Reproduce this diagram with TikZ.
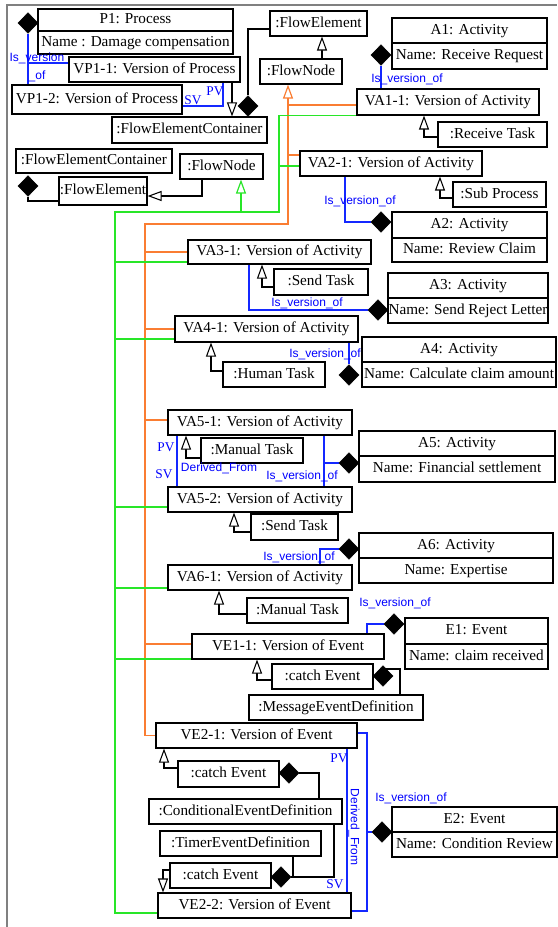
\documentclass[tikz,border=0pt]{standalone}
\usepackage{fontspec}
\setmainfont{Liberation Serif}
\newfontfamily\lblfont{Liberation Sans}
\usetikzlibrary{shapes.geometric,arrows.meta,backgrounds}
\definecolor{framecol}{RGB}{128,128,128}
\definecolor{lnblue}{RGB}{20,40,255}
\definecolor{lnorange}{RGB}{250,125,50}
\definecolor{lngreen}{RGB}{40,230,40}

% plain box: name, x1, y1, x2, y2, text (pixel units, y downwards)
\newcommand\umlbox[6]{%
  \node[box, minimum width={(#4-#2)*0.75pt}, minimum height={(#5-#3)*0.75pt}]
    (#1) at ({(#2+#4)/2},{(#3+#5)/2}) {#6};}
% object box with a name row and an attribute row
\newcommand\classbox[8]{%
  \node[box, minimum width={(#4-#2)*0.75pt}, minimum height={(#5-#3)*0.75pt}]
    (#1) at ({(#2+#4)/2},{(#3+#5)/2}) {};
  \coordinate (#1-d) at (0,#6);
  \draw[boxline] (#1.west |- #1-d) -- (#1.east |- #1-d);
  \node[txt] (#1-t) at ({(#2+#4)/2},{(#3+#6)/2}) {#7};
  \node[txt] (#1-b) at ({(#2+#4)/2},{(#6+#5)/2}) {#8};}

\tikzset{
  txt/.style={inner sep=0pt, font=\fontsize{11.4}{13}\selectfont, text height=8pt, text depth=2.2pt},
  box/.style={txt, draw=black, fill=white, line width=0.85pt},
  boxline/.style={draw=black, line width=0.85pt},
  dia/.style={diamond, fill=black, draw=black, inner sep=0pt, minimum width=15pt, minimum height=15.5pt},
  ln/.style={draw=black, line width=0.8pt},
  bl/.style={draw=lnblue, line width=0.9pt},
  og/.style={draw=lnorange, line width=0.9pt},
  gr/.style={draw=lngreen, line width=0.9pt},
  gen/.style={ln, -{Triangle[length=10.5pt, width=7.5pt, fill=white]}},
  ogen/.style={og, -{Triangle[length=10.5pt, width=7.5pt, fill=white]}},
  ggen/.style={gr, -{Triangle[length=10.5pt, width=7.5pt, fill=white]}},
  lbl/.style={inner sep=0pt, text=blue, font=\lblfont\fontsize{9}{10}\selectfont},
  lbls/.style={inner sep=0pt, text=blue, font=\fontsize{10}{11}\selectfont},
}

\begin{document}
\begin{tikzpicture}[x=0.75pt, y=-0.75pt]
\useasboundingbox (0,0) rectangle (557,927);

% page frame
\draw[framecol, line width=1.5pt] (7,927) -- (7,5) -- (557,5);

% ---------- process part ----------
\classbox{p1}{38}{9}{233}{54}{31}{P1: Process}{Name : Damage compensation}
\umlbox{vp11}{69}{57}{240}{82}{VP1-1: Version of Process}
\umlbox{vp12}{12}{85}{182}{114}{VP1-2: Version of Process}
\umlbox{fec1}{112}{117}{267}{143}{:FlowElementContainer}
\umlbox{fe1}{270}{11}{367}{36}{:FlowElement}
\umlbox{fn1}{260}{59}{342}{84}{:FlowNode}
\umlbox{fec2}{16}{149}{172}{173}{:FlowElementContainer}
\umlbox{fe2}{59}{177}{147}{205}{:FlowElement}
\umlbox{fn2}{180}{154}{263}{179}{:FlowNode}

% ---------- activities ----------
\classbox{a1}{392}{18}{547}{69}{43}{A1: Activity}{Name: Receive Request}
\umlbox{va11}{357}{89}{539}{115}{VA1-1: Version of Activity}
\umlbox{rt}{438}{122}{547}{147}{:Receive Task}

\umlbox{va21}{300}{151}{482}{176}{VA2-1: Version of Activity}
\umlbox{sp}{453}{182}{546}{207}{:Sub Process}
\classbox{a2}{392}{212}{547}{262}{238}{A2: Activity}{Name: Review Claim}

\umlbox{va31}{188}{240}{371}{264}{VA3-1: Version of Activity}
\umlbox{st1}{274}{269}{368}{295}{:Send Task}
\classbox{a3}{388}{273}{548}{323}{298}{A3: Activity}{Name: Send Reject Letter}

\umlbox{va41}{175}{316}{358}{342}{VA4-1: Version of Activity}
\umlbox{ht}{223}{362}{325}{387}{:Human Task}
\classbox{a4}{362}{337}{556}{387}{362}{A4: Activity}{Name: Calculate claim amount}

\umlbox{va51}{168}{410}{352}{435}{VA5-1: Version of Activity}
\umlbox{mt1}{201}{438}{303}{463}{:Manual Task}
\classbox{a5}{359}{431}{555}{482}{456}{A5: Activity}{Name: Financial settlement}
\umlbox{va52}{168}{487}{352}{512}{VA5-2: Version of Activity}
\umlbox{st2}{251}{514}{338}{540}{:Send Task}

\classbox{a6}{359}{533}{553}{583}{558}{A6: Activity}{Name: Expertise}
\umlbox{va61}{168}{565}{352}{590}{VA6-1: Version of Activity}
\umlbox{mt2}{247}{598}{348}{623}{:Manual Task}

% ---------- events ----------
\umlbox{ve11}{192}{634}{384}{659}{VE1-1: Version of Event}
\classbox{e1}{405}{618}{548}{669}{644}{E1: Event}{Name: claim received}
\umlbox{ce1}{272}{664}{373}{689}{:catch Event}
\umlbox{med}{249}{695}{423}{720}{:MessageEventDefinition}

\umlbox{ve21}{156}{723}{357}{748}{VE2-1: Version of Event}
\umlbox{ce2}{178}{761}{279}{787}{:catch Event}
\umlbox{ced}{149}{799}{342}{824}{:ConditionalEventDefinition}
\umlbox{ted}{160}{831}{321}{856}{:TimerEventDefinition}
\umlbox{ce3}{170}{863}{271}{888}{:catch Event}
\umlbox{ve22}{158}{893}{351}{918}{VE2-2: Version of Event}
\classbox{e2}{392}{807}{557}{857}{832}{E2: Event}{Name: Condition Review}

% ---------- composition diamonds ----------
\node[dia] (dp1)   at (28,23)  {};
\node[dia] (dfec)  at (248,106) {};
\node[dia] (da1)   at (381,55) {};
\node[dia] (dfec2) at (28,186) {};
\node[dia] (da2)   at (381,222) {};
\node[dia] (da3)   at (378,310) {};
\node[dia] (da4)   at (349,375) {};
\node[dia] (da5)   at (349,463) {};
\node[dia] (da6)   at (349,549) {};
\node[dia] (de1)   at (394,624) {};
\node[dia] (dce1)  at (383,676) {};
\node[dia] (dce2)  at (289,773) {};
\node[dia] (dce3)  at (281,877) {};
\node[dia] (de2)   at (382,832) {};

% ---------- connectors ----------
\begin{scope}[on background layer]
  % process versions
  \coordinate (j1) at (28,63);
  \draw[bl] (dp1.south) -- (dp1.south |- vp12.north);
  \draw[bl] (j1) -- (j1 -| vp11.west);
  \coordinate (j2) at (223,106);
  \draw[bl] (j2 -| vp12.east) -- (j2) -- (j2 |- vp11.south);
  \coordinate (g1) at (232,100);
  \draw[gen] (g1 |- vp11.south) -- (g1 |- fec1.north);
  \coordinate (j3) at (248,29);
  \draw[ln] (dfec.north) -- (j3) -- (j3 -| fe1.west);
  \coordinate (g2) at (322,50);
  \draw[gen] (g2 |- fn1.north) -- (g2 |- fe1.south);
  \coordinate (j4) at (28,201);
  \draw[ln] (dfec2.south) -- (j4) -- (j4 -| fe2.west);
  \coordinate (j5) at (202,196);
  \draw[gen] (j5 |- fn2.south) -- (j5) -- (j5 -| fe2.east);

  % FlowNode inheritance (orange)
  \coordinate (o0) at (288,224);
  \coordinate (o1) at (145,224);
  \draw[ogen] (ve21.west) -- (ve21.west -| o1) -- (o1) -- (o0) -- (o0 |- fn1.south);
  \foreach \n/\y in {va11/105, va21/155}
    {\coordinate (t) at (288,\y); \draw[og] (t) -- (t -| \n.west);}
  \foreach \n/\y in {va31/252, va41/329, va51/420, ve11/644}
    {\coordinate (t) at (145,\y); \draw[og] (t) -- (t -| \n.west);}

  % FlowNode inheritance (green)
  \coordinate (q0) at (279,212);
  \coordinate (q1) at (115,212);
  \coordinate (q2) at (241,212);
  \coordinate (q3) at (115,913);
  \draw[ggen] (q2) -- (q2 |- fn2.south);
  \draw[gr] (va11.south west) -- (va11.south west -| q0) -- (q0) -- (q1) -- (q3) -- (q3 -| ve22.west);
  \coordinate (t) at (279,166); \draw[gr] (t) -- (t -| va21.west);
  \foreach \n/\y in {va31/262, va41/339, va52/507, va61/588, ve11/659}
    {\coordinate (t) at (115,\y); \draw[gr] (t) -- (t -| \n.west);}

  % activity versions
  \draw[bl] (da1.south) -- (da1.south |- va11.north);
  \coordinate (b2) at (345,222);
  \draw[bl] (b2 |- va21.south) -- (b2) -- (da2.west);
  \coordinate (b3) at (249,310);
  \draw[bl] (b3 |- va31.south) -- (b3) -- (da3.west);
  \draw[bl] (da4.north |- va41.south) -- (da4.north);
  \coordinate (b5) at (324,463);
  \draw[bl] (b5 |- va51.south) -- (b5 |- va52.north);
  \draw[bl] (b5) -- (da5.west);
  \coordinate (b5p) at (177,460);
  \draw[bl] (b5p |- va51.south) -- (b5p |- va52.north);
  \coordinate (b6) at (320,549);
  \draw[bl] (b6 |- va61.north) -- (b6) -- (da6.west);

  % event versions
  \coordinate (b7) at (367,624);
  \draw[bl] (b7 |- ve11.north) -- (b7) -- (de1.west);
  \coordinate (b8) at (367,733);
  \coordinate (b9) at (367,911);
  \draw[bl] (b8 -| ve21.east) -- (b8) -- (b9) -- (b9 -| ve22.east);
  \coordinate (b10) at (367,832);
  \draw[bl] (b10) -- (de2.west);
  \coordinate (b11) at (347,800);
  \draw[bl] (b11 |- ve21.south) -- (b11 |- ve22.north);

  % task / event type generalisations
  \coordinate (g3) at (424,137);
  \draw[gen] (g3 -| rt.west) -- (g3) -- (g3 |- va11.south);
  \coordinate (g4) at (440,198);
  \draw[gen] (g4 -| sp.west) -- (g4) -- (g4 |- va21.south);
  \coordinate (g5) at (262,287);
  \draw[gen] (g5 -| st1.west) -- (g5) -- (g5 |- va31.south);
  \coordinate (g6) at (211,371);
  \draw[gen] (g6 -| ht.west) -- (g6) -- (g6 |- va41.south);
  \coordinate (g7) at (186,458);
  \draw[gen] (g7 -| mt1.west) -- (g7) -- (g7 |- va51.south);
  \coordinate (g8) at (234,532);
  \draw[gen] (g8 -| st2.west) -- (g8) -- (g8 |- va52.south);
  \coordinate (g9) at (219,614);
  \draw[gen] (g9 -| mt2.west) -- (g9) -- (g9 |- va61.south);
  \coordinate (g10) at (257,680);
  \draw[gen] (g10 -| ce1.west) -- (g10) -- (g10 |- ve11.south);
  \coordinate (g11) at (164,768);
  \draw[gen] (g11 -| ce2.west) -- (g11) -- (g11 |- ve21.south);
  \coordinate (g12) at (163,870);
  \draw[gen] (g12 -| ce3.west) -- (g12) -- (g12 |- ve22.north);

  % event definitions
  \coordinate (k1) at (400,669);
  \draw[ln] (dce1.center |- k1) -- (k1) -- (k1 |- med.north);
  \coordinate (k2) at (319,773);
  \draw[ln] (dce2.east) -- (k2) -- (k2 |- ced.north);
  \coordinate (k3) at (334,877);
  \draw[ln] (dce3.east) -- (k3) -- (k3 |- ced.south);
  \coordinate (k4) at (293,877);
  \draw[ln] (k4 |- ted.south) -- (k4);
\end{scope}

% ---------- connector labels ----------
\node[lbl]  (l1)  at (37,58)   {Is\_version};
\node[lbl]  (l2)  at (37,76)   {\_of};
\node[lbls] (l3)  at (193,100) {SV};
\node[lbls] (l4)  at (215,91)  {PV};
\node[lbl]  (l5)  at (407,79)  {Is\_version\_of};
\node[lbl]  (l6)  at (360,201) {Is\_version\_of};
\node[lbl]  (l7)  at (307,303) {Is\_version\_of};
\node[lbl]  (l8)  at (325,354) {Is\_version\_of};
\node[lbls] (l9)  at (166,447) {PV};
\node[lbls] (l10) at (164,474) {SV};
\node[lbl]  (l11) at (219,468) {Derived\_From};
\node[lbl]  (l12) at (302,476) {Is\_version\_of};
\node[lbl]  (l13) at (299,557) {Is\_version\_of};
\node[lbl]  (l14) at (395,603) {Is\_version\_of};
\node[lbls] (l15) at (339,758) {PV};
\node[lbls] (l16) at (335,884) {SV};
\node[lbl, rotate=-90] (l17) at (354,827) {Derived\_From};
\node[lbl]  (l18) at (411,798) {Is\_version\_of};
\end{tikzpicture}
\end{document}
